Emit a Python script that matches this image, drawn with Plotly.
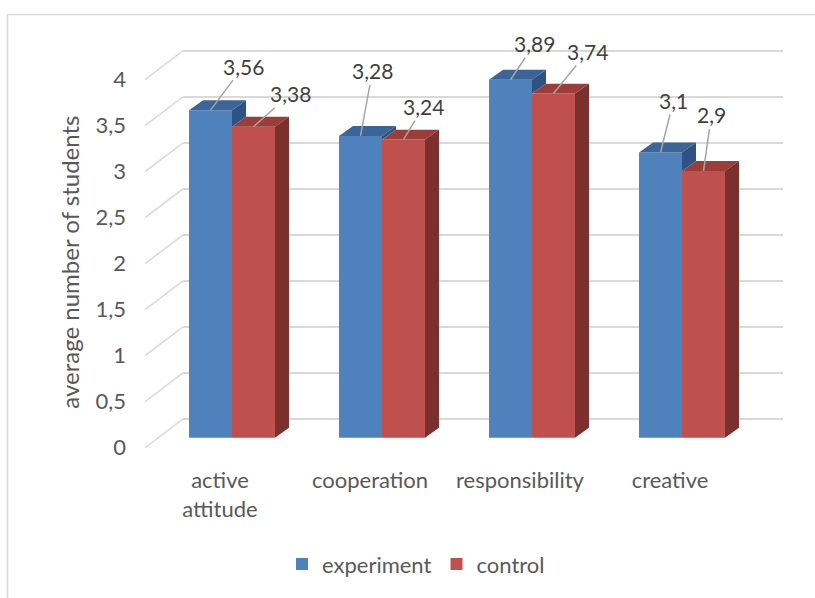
import plotly.graph_objects as go

# ---------------- data ----------------
categories = ["active<br>attitude", "cooperation", "responsibility", "creative"]
series_names = ["experiment", "control"]
experiment = [3.56, 3.28, 3.89, 3.1]
control = [3.38, 3.24, 3.74, 2.9]
y_tick_values = [0, 0.5, 1, 1.5, 2, 2.5, 3, 3.5, 4]

# label offsets (pixels, text centre relative to bar top)
exp_label_offsets = [(33, -44), (12, -65), (24, -36), (13, -52)]
ctl_label_offsets = [(37, -33), (20, -33), (34, -42), (8, -56)]

# ---------------- styles / geometry ----------------
W, H = 815, 598
FONT = "Lato"
TXT = "#595959"
GRID = "#d9d9d9"
BLUE, BLUE_TOP, BLUE_SIDE = "#4f81bd", "#3b6497", "#2f5285"
RED, RED_TOP, RED_SIDE = "#c0504d", "#9c3d3a", "#7b302e"

PX_CAT = 150.0      # pixels per category
PX_UNIT = 92.5      # pixels per value unit
FRONT = (145, 450)  # px of (x=-0.5, y=0) on front plane
BARP = (157, 440)   # bar plane
BACK = (183, 421)   # back wall
DEPTH = (14, 10)    # bar depth in px (right, up)
BARGAP = 0.427
X_RANGE = [-0.5, 3.5]
Y_RANGE = [-0.1, 4.2]


def fx(p):
    return p / W


def fy(p):
    return 1 - p / H


def domains(origin):
    x0, y0 = origin
    xd = [fx(x0), fx(x0 + PX_CAT * (X_RANGE[1] - X_RANGE[0]))]
    yd = [fy(y0 - PX_UNIT * Y_RANGE[0]), fy(y0 - PX_UNIT * Y_RANGE[1])]
    return xd, yd


fig = go.Figure()

# placeholder traces so all subplots exist
fig.add_trace(go.Scatter(x=[], y=[], xaxis="x", yaxis="y", showlegend=False, hoverinfo="skip"))
fig.add_trace(go.Scatter(x=[], y=[], xaxis="x2", yaxis="y2", showlegend=False, hoverinfo="skip"))

xpos = list(range(len(categories)))

fig.add_trace(go.Bar(x=xpos, y=experiment, name=series_names[0], marker=dict(color=BLUE, line=dict(width=0)),
                     xaxis="x3", yaxis="y3"))
fig.add_trace(go.Bar(x=xpos, y=control, name=series_names[1], marker=dict(color=RED, line=dict(width=0)),
                     xaxis="x3", yaxis="y3"))

w = (1 - BARGAP) / 2
ddx = DEPTH[0] / PX_CAT
ddy = DEPTH[1] / PX_UNIT


def face(xs, ys, color):
    fig.add_trace(go.Scatter(x=xs + [xs[0]], y=ys + [ys[0]], fill="toself", fillcolor=color,
                             mode="lines", line=dict(width=0, color=color), xaxis="x3", yaxis="y3",
                             showlegend=False, hoverinfo="skip"))


for i, (b, r) in enumerate(zip(experiment, control)):
    # blue top
    face([i - w, i, i + ddx, i - w + ddx], [b, b, b + ddy, b + ddy], BLUE_TOP)
    # blue side visible above red
    if b > r:
        face([i, i, i + ddx, i + ddx], [r, b, b + ddy, r + ddy], BLUE_SIDE)
    # red top
    face([i, i + w, i + w + ddx, i + ddx], [r, r, r + ddy, r + ddy], RED_TOP)
    # red side
    face([i + w, i + w, i + w + ddx, i + w + ddx], [0, r, r + ddy, ddy], RED_SIDE)


def fmt(v):
    return ("%g" % v).replace(".", ",")


annotations = []
for i, (b, r) in enumerate(zip(experiment, control)):
    for val, xc, (ax, ay) in ((b, i - w / 2, exp_label_offsets[i]), (r, i + w / 2, ctl_label_offsets[i])):
        annotations.append(dict(x=xc, y=val, xref="x3", yref="y3", text=fmt(val), showarrow=True,
                                ax=ax, ay=ay, arrowhead=0, arrowwidth=1.5, arrowcolor="#a6a6a6",
                                font=dict(family=FONT, size=21, color="#404040")))

annotations.append(dict(x=fx(70), y=fy(264), xref="paper", yref="paper", text="average number of students",
                        textangle=-90, showarrow=False, xanchor="center", yanchor="middle",
                        font=dict(family=FONT, size=24, color=TXT)))

shapes = []
# side-wall diagonals of gridlines
for v in y_tick_values:
    shapes.append(dict(type="line", xref="paper", yref="paper", layer="below",
                       x0=fx(FRONT[0]), y0=fy(FRONT[1] - PX_UNIT * v),
                       x1=fx(BACK[0]), y1=fy(BACK[1] - PX_UNIT * v),
                       line=dict(color=GRID, width=1.5)))
# outer chart frame
shapes.append(dict(type="rect", xref="paper", yref="paper", x0=fx(7.5), y0=fy(14.5), x1=fx(W + 10), y1=fy(H + 10),
                   line=dict(color=GRID, width=1.5), layer="below"))

xd_back, yd_back = domains(BACK)
xd_front, yd_front = domains(FRONT)
xd_bar, yd_bar = domains(BARP)

hidden_x = dict(range=X_RANGE, showgrid=False, zeroline=False, showticklabels=False, ticks="", showline=False,
                fixedrange=True)

fig.update_layout(
    width=W, height=H,
    margin=dict(l=0, r=0, t=0, b=0),
    paper_bgcolor="white", plot_bgcolor="rgba(0,0,0,0)",
    separators=", ",
    barmode="group", bargap=BARGAP, bargroupgap=0,
    font=dict(family=FONT, color=TXT),
    xaxis=dict(domain=xd_back, anchor="y", **hidden_x),
    yaxis=dict(domain=yd_back, anchor="x", range=Y_RANGE, tickvals=y_tick_values, showgrid=True,
               gridcolor=GRID, gridwidth=1.5, zeroline=False, showticklabels=False, ticks="", showline=False),
    xaxis2=dict(domain=xd_front, anchor="y2", range=X_RANGE, tickvals=xpos, ticktext=categories,
                showgrid=False, zeroline=False, showline=False, ticks="", ticklabelstandoff=8,
                tickfont=dict(family=FONT, size=22, color=TXT)),
    yaxis2=dict(domain=yd_front, anchor="x2", range=Y_RANGE, tickvals=y_tick_values, showgrid=False,
                zeroline=False, showline=False, ticks="", ticklabelstandoff=18,
                tickfont=dict(family=FONT, size=22, color=TXT)),
    xaxis3=dict(domain=xd_bar, anchor="y3", **hidden_x),
    yaxis3=dict(domain=yd_bar, anchor="x3", range=Y_RANGE, showgrid=False, zeroline=False,
                showticklabels=False, ticks="", showline=False),
    legend=dict(orientation="h", x=fx(416), xanchor="center", y=fy(567), yanchor="middle",
                font=dict(family=FONT, size=22, color=TXT), itemwidth=30, bgcolor="rgba(0,0,0,0)"),
    annotations=annotations,
    shapes=shapes,
)

fig.write_html("out.html")
